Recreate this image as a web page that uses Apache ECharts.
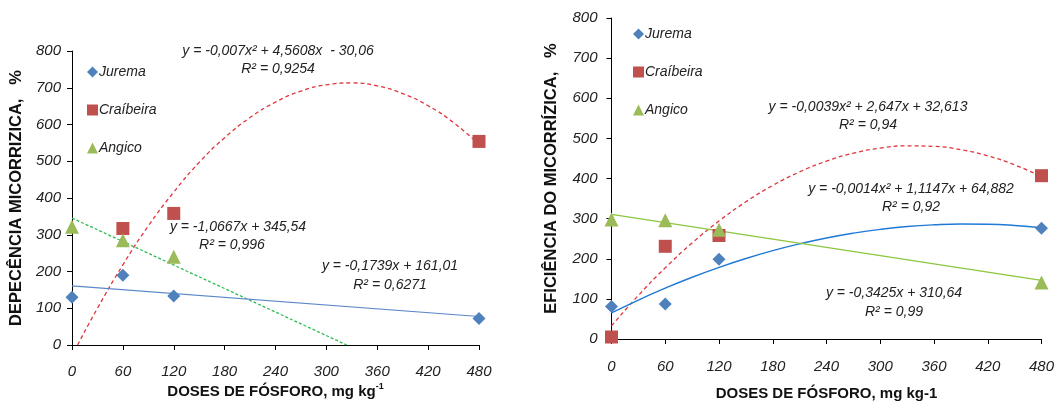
<!DOCTYPE html>
<html>
<head>
<meta charset="utf-8">
<script src="https://cdn.jsdelivr.net/npm/echarts@6/dist/echarts.min.js"></script>
<style>
  html, body { margin: 0; padding: 0; background: #fff; }
  #chart { width: 1056px; height: 405px; }
</style>
</head>
<body>
<div id="chart"></div>
<script>
// doses de fosforo (eixo x)
var doses = [0, 60, 120, 480];
var xTicks = [0, 60, 120, 180, 240, 300, 360, 420, 480];

// grafico 1 - dependencia micorrizica
var dep_jurema = [130, 190, 133, 72];
var dep_craibeira = [null, 317, 358, 554];
var dep_angico = [322, 285, 240, null];

var dep_trend_x_cra = [6.6, 30, 60, 90, 120, 150, 180, 210, 240, 270, 300, 330, 360, 390, 420, 450, 480];
var dep_trend_cra = [0, 100, 218, 324, 416, 497, 564, 619, 661, 691, 708, 713, 705, 684, 651, 605, 546];
var dep_trend_x_ang = [0, 324];
var dep_trend_ang = [345.5, 0];
var dep_trend_x_jur = [0, 480];
var dep_trend_jur = [161, 77.5];

// grafico 2 - eficiencia micorrizica
var ef_jurema = [81, 87, 199, 276];
var ef_craibeira = [5, 231, 258, 407];
var ef_angico = [298, 296, 272, 141];

var ef_trend_x = [0, 30, 60, 90, 120, 150, 180, 210, 240, 270, 300, 330, 360, 390, 420, 450, 480];
var ef_trend_cra = [32.6, 108.5, 177.4, 239.3, 294.1, 341.9, 382.7, 416.5, 443.3, 463.0, 475.7, 481.4, 480.1, 471.8, 456.4, 434.0, 404.6];
var ef_trend_jur = [64.9, 97.1, 126.7, 153.9, 178.5, 200.6, 220.2, 237.2, 251.8, 263.8, 273.3, 280.3, 284.7, 286.7, 286.1, 283.0, 277.4];
var ef_trend_x_ang = [0, 480];
var ef_trend_ang = [310.6, 146.2];

var cBlue = '#4F81BD', cRed = '#C0504D', cGreen = '#9BBB59';

function pairs(xs, ys) {
    var out = [];
    for (var i = 0; i < xs.length; i++) {
        if (ys[i] !== null) out.push([xs[i], ys[i]]);
    }
    return out;
}

var chart = echarts.init(document.getElementById('chart'), null, {renderer: 'canvas'});

var tickFont = {fontFamily: 'Liberation Sans, Arial', fontStyle: 'italic', fontSize: 15, color: '#222'};
var titleFont = {fontFamily: 'Liberation Sans, Arial', fontWeight: 'bold', fontSize: 15, color: '#111'};

function xAxis(idx, gap, margin, name) {
    return {
        gridIndex: idx, type: 'value', min: 0, max: 480, interval: 60,
        axisLine: {lineStyle: {color: '#000', width: 1}},
        axisTick: {show: true, length: 5, lineStyle: {color: '#000'}},
        axisLabel: Object.assign({margin: margin}, tickFont),
        splitLine: {show: false},
        name: name, nameLocation: 'middle', nameGap: gap, nameMoveOverlap: false,
        nameTextStyle: Object.assign({
            rich: {s: {fontFamily: 'Liberation Sans, Arial', fontWeight: 'bold', fontSize: 9, color: '#111', padding: [0, 0, 10, 0]}}
        }, titleFont)
    };
}

function yAxis(idx, gap, margin, name) {
    return {
        gridIndex: idx, type: 'value', min: 0, max: 800, interval: 100,
        axisLine: {show: true, lineStyle: {color: '#000', width: 1}},
        axisTick: {show: true, length: 5, lineStyle: {color: '#000'}},
        axisLabel: Object.assign({margin: margin}, tickFont),
        splitLine: {show: false},
        name: name, nameLocation: 'middle', nameGap: gap, nameMoveOverlap: false,
        nameTextStyle: Object.assign({}, titleFont, {fontSize: 16.5})
    };
}

function pts(name, xi, data, symbol, size, color) {
    return {
        name: name, type: 'scatter', xAxisIndex: xi, yAxisIndex: xi,
        symbol: symbol, symbolSize: size, data: data, z: 5,
        itemStyle: {color: color, opacity: 1}
    };
}

function trend(xi, data, color, width, type, smooth) {
    return {
        name: 'trend', type: 'line', xAxisIndex: xi, yAxisIndex: xi,
        data: data, showSymbol: false, smooth: smooth, z: 3, silent: true,
        lineStyle: {color: color, width: width, type: type}
    };
}

function legend(left, top) {
    return {
        orient: 'vertical', left: left, top: top, itemGap: 24,
        itemWidth: 11, itemHeight: 11,
        textStyle: {fontFamily: 'Liberation Sans, Arial', fontStyle: 'italic', fontSize: 14, color: '#222', padding: [0, 0, 0, -4]},
        data: [
            {name: 'Jurema', icon: 'diamond', itemStyle: {color: cBlue}},
            {name: 'Craíbeira', icon: 'rect', itemStyle: {color: cRed}},
            {name: 'Angico', icon: 'triangle', itemStyle: {color: cGreen}}
        ]
    };
}

function eq(x, y, text) {
    return {
        type: 'text', x: x, y: y, silent: true,
        style: {text: text, fill: '#222', font: 'italic 14px "Liberation Sans", Arial', textAlign: 'center', textVerticalAlign: 'middle'}
    };
}

option = {
    animation: false,
    backgroundColor: '#fff',
    grid: [
        {left: 72, top: 51, width: 407, height: 294, outerBoundsMode: 'none', containLabel: false},
        {left: 611.5, top: 18, width: 430, height: 321, outerBoundsMode: 'none', containLabel: false}
    ],
    xAxis: [
        xAxis(0, 37, 19, 'DOSES DE FÓSFORO, mg kg{s|-1}'),
        xAxis(1, 47, 20, 'DOSES DE FÓSFORO, mg kg-1')
    ],
    yAxis: [
        yAxis(0, 47, 11, 'DEPECÊNCIA MICORRIZICA,   %'),
        yAxis(1, 52, 14, 'EFICIÊNCIA DO MICORRÍZICA,   %')
    ],
    legend: [legend(82, 60), legend(628, 22)],
    series: [
        trend(0, pairs(dep_trend_x_cra, dep_trend_cra), '#E0353D', 1.3, [4, 3], true),
        trend(0, pairs(dep_trend_x_ang, dep_trend_ang), '#2DBE50', 1.3, [3, 2], false),
        trend(0, pairs(dep_trend_x_jur, dep_trend_jur), '#5B87C9', 1.2, 'solid', false),
        pts('Jurema', 0, pairs(doses, dep_jurema), 'diamond', 13, cBlue),
        pts('Craíbeira', 0, pairs(doses, dep_craibeira), 'rect', 13, cRed),
        pts('Angico', 0, pairs(doses, dep_angico), 'triangle', 14, cGreen),

        trend(1, pairs(ef_trend_x, ef_trend_cra), '#E0353D', 1.3, [4, 3], true),
        trend(1, pairs(ef_trend_x, ef_trend_jur), '#1F7AD6', 1.4, 'solid', true),
        trend(1, pairs(ef_trend_x_ang, ef_trend_ang), '#8CC63F', 1.4, 'solid', false),
        pts('Jurema', 1, pairs(doses, ef_jurema), 'diamond', 13, cBlue),
        pts('Craíbeira', 1, pairs(doses, ef_craibeira), 'rect', 13, cRed),
        pts('Angico', 1, pairs(doses, ef_angico), 'triangle', 14, cGreen)
    ],
    graphic: [
        eq(278, 51, 'y = -0,007x² + 4,5608x  - 30,06'),
        eq(278, 69, 'R² = 0,9254'),
        eq(238, 227, 'y = -1,0667x + 345,54'),
        eq(232, 245, 'R² = 0,996'),
        eq(390, 266, 'y = -0,1739x + 161,01'),
        eq(390, 285, 'R² = 0,6271'),
        eq(868, 107, 'y = -0,0039x² + 2,647x + 32,613'),
        eq(868, 125, 'R² = 0,94'),
        eq(911, 189, 'y = -0,0014x² + 1,1147x + 64,882'),
        eq(911, 207, 'R² = 0,92'),
        eq(894, 293, 'y = -0,3425x + 310,64'),
        eq(894, 312, 'R² = 0,99')
    ]
};
chart.setOption(option);
</script>
</body>
</html>
